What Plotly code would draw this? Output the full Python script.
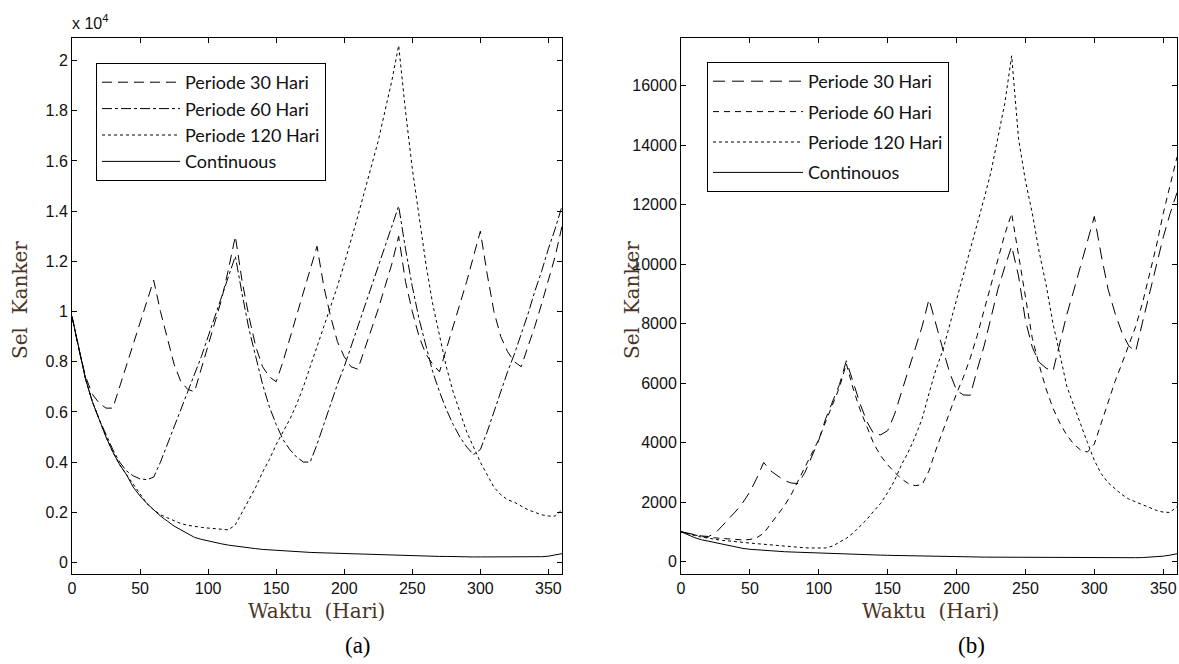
import plotly.graph_objects as go

W, H = 1179, 664

days = list(range(0, 361, 5))

# ---------- Panel (a): values in units of 10^4 cells ----------
a_p30 = [0.98, 0.85, 0.74, 0.67, 0.635, 0.615, 0.615, 0.70, 0.78, 0.87, 0.95, 1.04, 1.125,
         1.00, 0.89, 0.79, 0.72, 0.69, 0.68, 0.77, 0.86, 0.95, 1.05, 1.17, 1.30,
         1.12, 0.98, 0.86, 0.78, 0.74, 0.72, 0.80, 0.89, 0.98, 1.07, 1.16, 1.26,
         1.10, 0.98, 0.88, 0.82, 0.78, 0.77, 0.85, 0.93, 1.01, 1.10, 1.19, 1.30,
         1.12, 1.00, 0.90, 0.83, 0.79, 0.76, 0.85, 0.93, 1.02, 1.12, 1.22, 1.32,
         1.15, 1.00, 0.90, 0.84, 0.80, 0.78, 0.86, 0.94, 1.03, 1.12, 1.22, 1.34]
a_p60 = [0.98, 0.85, 0.73, 0.64, 0.57, 0.51, 0.45, 0.40, 0.365, 0.345, 0.333, 0.33, 0.34,
         0.40, 0.47, 0.54, 0.61, 0.68, 0.75, 0.82, 0.90, 0.98, 1.06, 1.14, 1.22,
         1.07, 0.93, 0.82, 0.71, 0.62, 0.55, 0.49, 0.45, 0.42, 0.40, 0.40, 0.47,
         0.55, 0.63, 0.71, 0.78, 0.86, 0.94, 1.02, 1.10, 1.18, 1.26, 1.34, 1.42,
         1.25, 1.10, 0.97, 0.86, 0.76, 0.68, 0.61, 0.55, 0.50, 0.46, 0.43, 0.45,
         0.52, 0.60, 0.68, 0.76, 0.83, 0.91, 0.99, 1.08, 1.16, 1.25, 1.33, 1.42]
a_p120 = [0.98, 0.85, 0.73, 0.64, 0.57, 0.50, 0.44, 0.39, 0.35, 0.31, 0.27, 0.235, 0.21,
          0.19, 0.178, 0.165, 0.155, 0.148, 0.143, 0.14, 0.137, 0.134, 0.132, 0.13, 0.15,
          0.20, 0.25, 0.30, 0.36, 0.41, 0.47, 0.52, 0.57, 0.63, 0.70, 0.78, 0.86,
          0.94, 1.02, 1.10, 1.19, 1.28, 1.38, 1.48, 1.58, 1.68, 1.80, 1.92, 2.06,
          1.80, 1.57, 1.37, 1.19, 1.03, 0.90, 0.78, 0.68, 0.60, 0.52, 0.46, 0.40,
          0.35, 0.30, 0.27, 0.25, 0.24, 0.225, 0.21, 0.20, 0.19, 0.185, 0.185, 0.21]
a_cont = [0.98, 0.85, 0.73, 0.64, 0.57, 0.50, 0.44, 0.39, 0.35, 0.30, 0.265, 0.235, 0.21,
          0.185, 0.165, 0.145, 0.13, 0.115, 0.10, 0.092, 0.085, 0.079, 0.074, 0.069, 0.065,
          0.061, 0.058, 0.055, 0.052, 0.05, 0.047, 0.046, 0.045, 0.043, 0.041, 0.04, 0.039,
          0.038, 0.037, 0.036, 0.035, 0.034, 0.033, 0.032, 0.031, 0.03, 0.029, 0.028, 0.028,
          0.027, 0.027, 0.026, 0.026, 0.025, 0.024, 0.024, 0.023, 0.023, 0.023, 0.022, 0.022,
          0.022, 0.022, 0.022, 0.022, 0.022, 0.022, 0.022, 0.022, 0.023, 0.025, 0.03, 0.035]

# ---------- Panel (b): values in cells ----------
b_p30 = [1000, 950, 900, 860, 840, 960, 1200, 1440, 1700, 1990, 2340, 2800, 3330,
         3050, 2880, 2720, 2640, 2620, 3000, 3560, 4080, 4800, 5350, 5950, 6750,
         6000, 5300, 4700, 4280, 4260, 4400, 4950, 5700, 6450, 7150, 7900, 8820,
         7950, 7150, 6350, 5750, 5600, 5590, 6450, 7250, 8200, 9150, 9900, 10600,
         9600, 8100, 7200, 6700, 6500, 6400, 7350, 8300, 9100, 9950, 10800, 11600,
         10300, 9150, 8350, 7700, 7250, 7060, 8050, 9000, 9950, 10900, 11700, 12400]
b_p60 = [1000, 940, 880, 840, 810, 790, 770, 750, 735, 725, 740, 800, 950,
         1250, 1550, 1870, 2250, 2700, 3150, 3600, 4100, 4700, 5250, 5850, 6650,
         5800, 5100, 4500, 3950, 3550, 3250, 3000, 2780, 2620, 2550, 2580, 3050,
         3750, 4400, 5050, 5650, 6200, 6850, 7600, 8450, 9350, 10200, 11000, 11700,
         10300, 8800, 7500, 6600, 5800, 5150, 4650, 4250, 3950, 3750, 3680, 3950,
         4650, 5350, 6050, 6650, 7250, 7900, 8700, 9600, 10600, 11700, 12700, 13600]
b_p120 = [1000, 930, 870, 820, 780, 740, 710, 690, 660, 640, 620, 600, 580,
          560, 530, 510, 480, 470, 460, 455, 450, 455, 520, 640, 780,
          960, 1180, 1420, 1700, 1960, 2320, 2720, 3250, 3680, 4200, 4800, 5650,
          6450, 7100, 7950, 8800, 9600, 10500, 11300, 12200, 13100, 14300, 15400, 17000,
          14200, 12800, 11700, 10400, 9300, 8000, 6900, 5900, 5250, 4600, 4000, 3400,
          2950, 2650, 2450, 2250, 2100, 2000, 1900, 1800, 1720, 1660, 1650, 1850]
b_cont = [1000, 890, 800, 730, 680, 620, 570, 520, 480, 440, 410, 390, 375,
          360, 345, 330, 320, 310, 300, 290, 280, 272, 265, 258, 250,
          243, 236, 228, 220, 214, 208, 202, 196, 190, 185, 180, 176,
          172, 168, 164, 160, 157, 154, 151, 148, 146, 144, 142, 140,
          138, 136, 134, 132, 131, 130, 129, 128, 127, 126, 126, 125,
          125, 125, 125, 125, 126, 128, 132, 140, 155, 180, 215, 260]

names_a = ["Periode 30 Hari", "Periode 60 Hari", "Periode 120 Hari", "Continuous"]
names_b = ["Periode 30 Hari", "Periode 60 Hari", "Periode 120 Hari", "Continouos"]

x_ticks = [0, 50, 100, 150, 200, 250, 300, 350]

for arr in (a_p30, a_p60, a_p120, a_cont, b_p30, b_p60, b_p120, b_cont):
    assert len(arr) == len(days), len(arr)

dash_a = ["10px,6px", "10px,3px,3px,3px", "3px,3px", "solid"]
dash_b = ["12px,7px", "6px,5px", "3px,3px", "solid"]

fig = go.Figure()
for i, (vals, nm) in enumerate(zip([a_p30, a_p60, a_p120, a_cont], names_a)):
    fig.add_trace(go.Scatter(x=days, y=vals, mode="lines", name=nm,
                             line=dict(color="black", width=1, dash=dash_a[i]),
                             xaxis="x", yaxis="y", legend="legend",
                             legendgroup="a%d" % i))
for i, (vals, nm) in enumerate(zip([b_p30, b_p60, b_p120, b_cont], names_b)):
    fig.add_trace(go.Scatter(x=days, y=vals, mode="lines", name=nm,
                             line=dict(color="black", width=1, dash=dash_b[i]),
                             xaxis="x2", yaxis="y2", legend="legend2",
                             legendgroup="b%d" % i))

def px_x(p):
    return p / W

def px_y(p):
    return (H - p) / H

tickfont = dict(family="Liberation Sans, Arial, sans-serif", size=16, color="#111111")
axis_common = dict(showline=True, linecolor="black", linewidth=1, mirror="ticks",
                   ticks="inside", ticklen=5, tickcolor="black", showgrid=False,
                   zeroline=False, tickfont=tickfont, automargin=False)

ydom = [px_y(574), px_y(38)]
legend_font = dict(family="Lato, sans-serif", size=18, color="#111111")
fig.update_layout(
    width=W, height=H,
    margin=dict(l=0, r=0, t=0, b=0, autoexpand=False),
    paper_bgcolor="white", plot_bgcolor="white",
    xaxis=dict(domain=[px_x(72), px_x(562)], range=[0, 360], tickvals=x_ticks,
               anchor="y", **axis_common),
    yaxis=dict(domain=ydom, range=[-0.046, 2.09], dtick=0.2, tick0=0,
               anchor="x", **axis_common),
    xaxis2=dict(domain=[px_x(681), px_x(1177)], range=[0, 360], tickvals=x_ticks,
                anchor="y2", **axis_common),
    yaxis2=dict(domain=ydom, range=[-420, 17600], dtick=2000, tick0=0, tickformat="d",
                anchor="x2", **axis_common),
    legend=dict(x=px_x(96), y=px_y(63), xanchor="left", yanchor="top",
                bgcolor="white", bordercolor="black", borderwidth=1,
                font=legend_font, tracegroupgap=0, itemwidth=78),
    legend2=dict(x=px_x(707), y=px_y(62), xanchor="left", yanchor="top",
                 bgcolor="white", bordercolor="black", borderwidth=1,
                 font=legend_font, tracegroupgap=4, itemwidth=90),
    showlegend=True,
)

title_font = dict(family="DejaVu Serif, serif", size=20, color="#4a3526")
ann = [
    dict(text="Waktu  (Hari)", x=px_x(316), y=px_y(611)),
    dict(text="Waktu  (Hari)", x=px_x(930), y=px_y(611)),
    dict(text="Sel  Kanker", x=px_x(20), y=px_y(300), textangle=-90),
    dict(text="Sel  Kanker", x=px_x(632), y=px_y(300), textangle=-90),
]
for a in ann:
    fig.add_annotation(xref="paper", yref="paper", showarrow=False,
                       xanchor="center", yanchor="middle", font=title_font, **a)

fig.add_annotation(text="x 10<sup>4</sup>", xref="paper", yref="paper",
                   x=px_x(70), y=px_y(34), xanchor="left", yanchor="bottom",
                   showarrow=False, font=dict(family="Liberation Sans, Arial, sans-serif",
                                              size=16, color="#111111"))
cap_font = dict(family="Liberation Serif, Times New Roman, serif", size=23, color="black")
fig.add_annotation(text="(a)", xref="paper", yref="paper", x=px_x(358), y=px_y(645),
                   xanchor="center", yanchor="middle", showarrow=False, font=cap_font)
fig.add_annotation(text="(b)", xref="paper", yref="paper", x=px_x(971), y=px_y(645),
                   xanchor="center", yanchor="middle", showarrow=False, font=cap_font)

fig.write_html("out.html",
               config={"displayModeBar": False},
               post_script="document.body.style.margin='0px';"
                           "document.body.style.overflow='hidden';")
